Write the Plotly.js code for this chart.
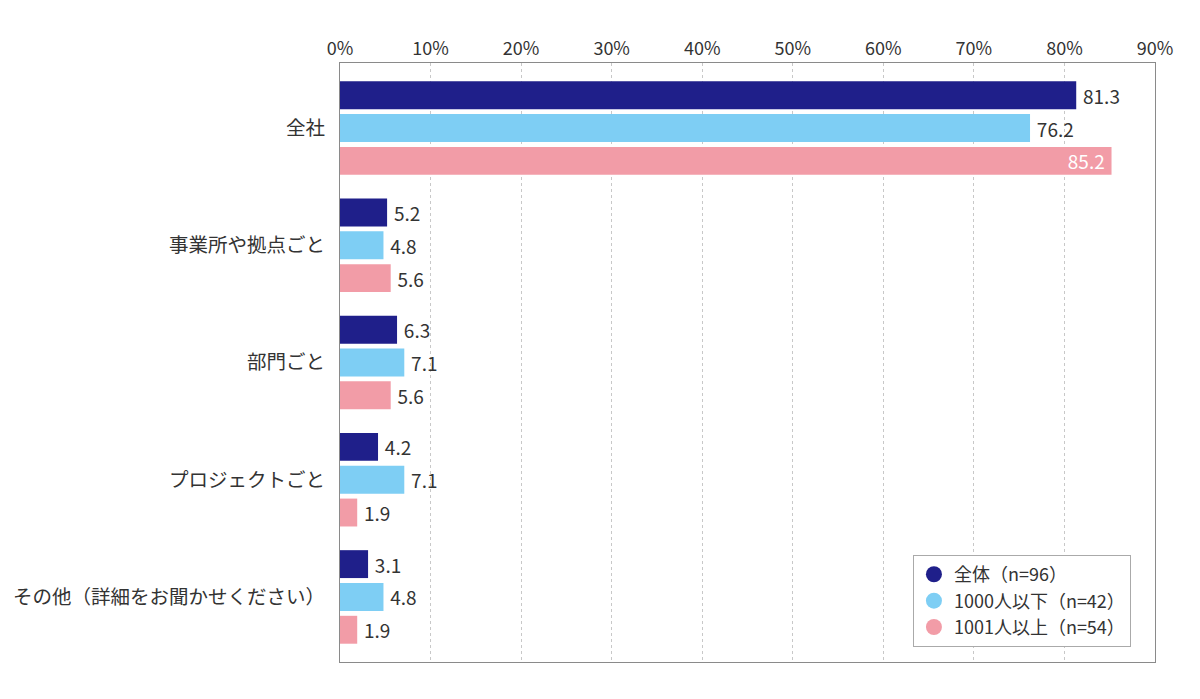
<!DOCTYPE html>
<html><head><meta charset="utf-8">
<script src="https://cdn.plot.ly/plotly-3.0.1.min.js"></script>
<style>body{margin:0;background:#fff}#c{width:1200px;height:699px}</style>
</head><body><div id="c"></div>
<script>
const categories = ["全社","事業所や拠点ごと","部門ごと","プロジェクトごと","その他（詳細をお聞かせください）"];
const seriesNames = ["全体（n=96）","1000人以下（n=42）","1001人以上（n=54）"];
const allValues = [81.3, 5.2, 6.3, 4.2, 3.1];
const smallValues = [76.2, 4.8, 7.1, 7.1, 4.8];
const largeValues = [85.2, 5.6, 5.6, 1.9, 1.9];
const colors = ["#1f1f8a", "#7ecef4", "#f29ca7"];
const tickVals = [0,10,20,30,40,50,60,70,80,90];
const tickText = ["0%","10%","20%","30%","40%","50%","60%","70%","80%","90%"];

const font = "'Noto Sans CJK JP', 'Noto Sans', sans-serif";
const series = [allValues, smallValues, largeValues];
const traces = [];
series.forEach((vals, i) => {
  const inside = vals.map(v => v > 84);
  traces.push({
    type: 'bar', orientation: 'h', name: seriesNames[i],
    y: categories, x: vals,
    text: vals.map((v, j) => inside[j] ? v.toFixed(1) + '\u2009' : '\u2009' + v.toFixed(1)),
    textposition: inside.map(f => f ? 'inside' : 'outside'),
    insidetextanchor: 'end',
    textfont: {size: 19, color: '#333', family: font},
    insidetextfont: {size: 19, color: '#fff', family: font},
    outsidetextfont: {size: 19, color: '#333', family: font},
    constraintext: 'none',
    cliponaxis: false,
    marker: {color: colors[i]},
    showlegend: false, hoverinfo: 'skip'
  });
});
series.forEach((vals, i) => {
  traces.push({
    type: 'scatter', mode: 'markers', name: seriesNames[i],
    x: [null], y: [null],
    marker: {symbol: 'circle', size: 17, color: colors[i]},
    showlegend: true
  });
});

const layout = {
  width: 1200, height: 699,
  margin: {l: 340, r: 45, t: 63, b: 37},
  paper_bgcolor: '#fff', plot_bgcolor: '#fff',
  barmode: 'group', bargap: 0.16, bargroupgap: 0.15,
  font: {family: font, color: '#333', size: 18},
  xaxis: {
    side: 'top', range: [0, 90], tickmode: 'array', tickvals: tickVals, ticktext: tickText,
    showgrid: true, gridcolor: '#c8c8c8', griddash: 'dot', gridwidth: 1,
    showline: true, mirror: true, linecolor: '#8a8a8a', linewidth: 1,
    zeroline: false, ticks: '', tickfont: {size: 18, color: '#333', family: font}
  },
  yaxis: {
    type: 'category', categoryorder: 'array', categoryarray: categories,
    range: [4.555, -0.555], showgrid: false, zeroline: false,
    showline: true, mirror: true, linecolor: '#8a8a8a', linewidth: 1,
    ticks: '', ticklabelstandoff: 10,
    tickfont: {size: 19.5, color: '#333', family: font}
  },
  legend: {
    x: 0.703, y: 0.025, xanchor: 'left', yanchor: 'bottom',
    bordercolor: '#aaa', borderwidth: 1, bgcolor: '#fff',
    font: {size: 18, color: '#333', family: font},
    itemsizing: 'trace', tracegroupgap: 0
  }
};
Plotly.newPlot('c', traces, layout, {displayModeBar: false, staticPlot: true});
</script></body></html>
